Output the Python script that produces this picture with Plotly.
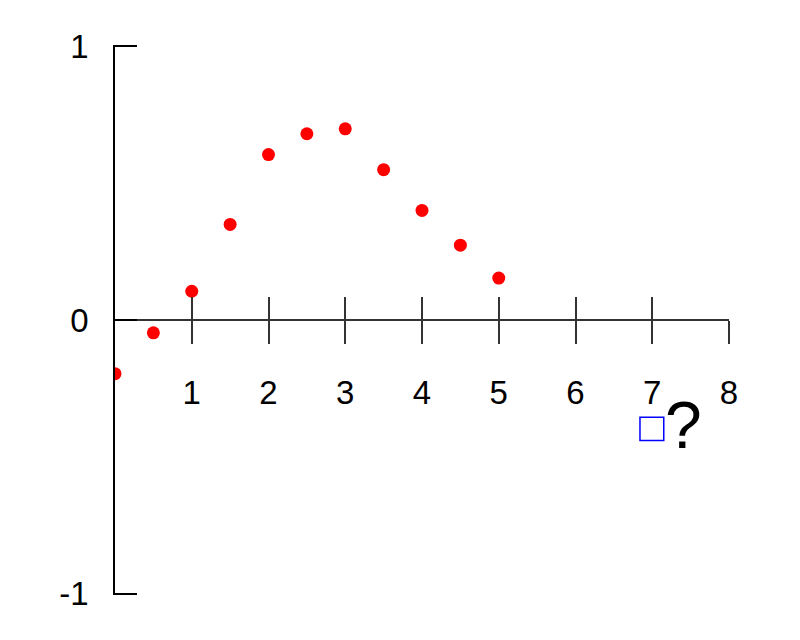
import plotly.graph_objects as go

xs = [0, 0.5, 1, 1.5, 2, 2.5, 3, 3.5, 4, 4.5, 5]
ys = [-0.196, -0.047, 0.105, 0.349, 0.604, 0.68, 0.698, 0.549, 0.4, 0.273, 0.153]

x_ticks = [1, 2, 3, 4, 5, 6, 7, 8]
x_ticktext = ['1', '2', '3', '4', '5', '6', '7', '8']
y_ticks = [-1, 0, 1]
y_ticktext = ['-1', '0', '1']

font = 'Liberation Sans'
fsize = 33

fig = go.Figure()
fig.add_trace(go.Scatter(x=xs, y=ys, mode='markers',
                         marker=dict(color='red', size=13), showlegend=False,
                         hoverinfo='skip'))
# dummy trace so the second (upper-tick) x axis gets drawn
fig.add_trace(go.Scatter(x=[None], y=[None], xaxis='x2', yaxis='y',
                         showlegend=False, hoverinfo='skip'))

fig.update_layout(
    width=800, height=640,
    paper_bgcolor='white', plot_bgcolor='white',
    margin=dict(l=107, r=79, t=37, b=53),  # page has an 8px body offset
    showlegend=False,
    font=dict(family=font, size=fsize, color='black'),
    xaxis=dict(range=[0, 8], anchor='free', position=0.5,
               showline=True, linecolor='#333', linewidth=1.5,
               showgrid=False, zeroline=False,
               ticks='outside', ticklen=23, tickwidth=1.5, tickcolor='#333',
               tickvals=x_ticks, ticktext=x_ticktext,
               tickfont=dict(family=font, size=fsize, color='black'),
               ticklabelstandoff=21),
    xaxis2=dict(range=[0, 8], overlaying='x', anchor='free', position=0.5,
                showline=False, showgrid=False, zeroline=False,
                ticks='inside', ticklen=23, tickwidth=1.5, tickcolor='#333',
                tickvals=x_ticks, showticklabels=False),
    yaxis=dict(range=[-1.004, 1.004], anchor='x',
               showline=True, linecolor='black', linewidth=1.5,
               showgrid=False, zeroline=False,
               ticks='inside', ticklen=22, tickwidth=1.5, tickcolor='black',
               tickvals=y_ticks, ticktext=y_ticktext,
               tickfont=dict(family=font, size=fsize, color='black'),
               ticklabelstandoff=18),
)

# blue box and question mark
fig.add_shape(type='rect', xref='x', yref='y', x0=6.84, x1=7.15, y0=-0.44, y1=-0.355,
              line=dict(color='blue', width=1.5), fillcolor='rgba(0,0,0,0)')
fig.add_annotation(x=7.41, y=-0.385, xref='x', yref='y', text='?', showarrow=False,
                   font=dict(family=font, size=66, color='black'))

fig.write_html("out.html")
